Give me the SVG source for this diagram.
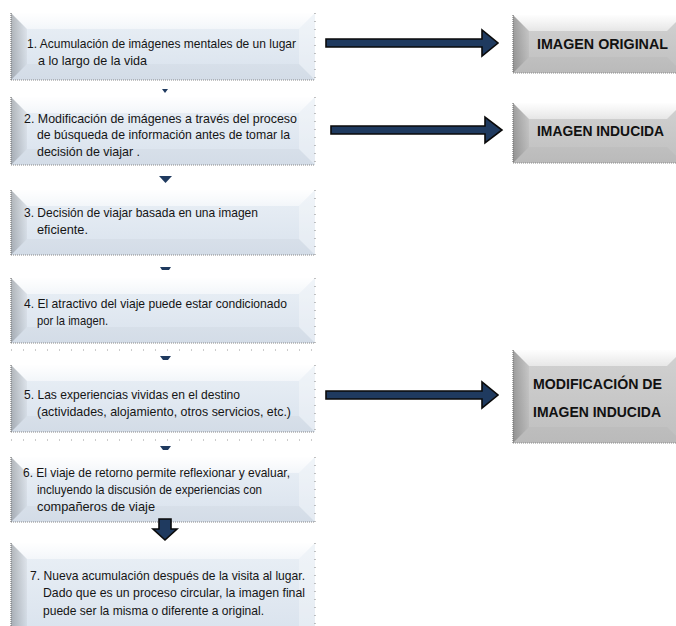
<svg xmlns="http://www.w3.org/2000/svg" width="676" height="626" viewBox="0 0 676 626">
<defs>
<linearGradient id="gBlue" x1="0" y1="0" x2="0" y2="1">
<stop offset="0" stop-color="#eaf0f6"/><stop offset="1" stop-color="#d9e2ed"/>
</linearGradient>
<linearGradient id="gGray" x1="0" y1="0" x2="0" y2="1">
<stop offset="0" stop-color="#d2d2d2"/><stop offset="1" stop-color="#bfbfbf"/>
</linearGradient>
<linearGradient id="gLeft" x1="0" y1="0" x2="1" y2="0">
<stop offset="0" stop-color="#000" stop-opacity="0.24"/><stop offset="1" stop-color="#000" stop-opacity="0.04"/>
</linearGradient>
<linearGradient id="gTop" x1="0" y1="0" x2="0" y2="1">
<stop offset="0" stop-color="#fff" stop-opacity="0.97"/><stop offset="1" stop-color="#fff" stop-opacity="0.5"/>
</linearGradient>
</defs>
<style>
.face{fill:url(#gBlue)}
.gface{fill:url(#gGray)}
.top{fill:url(#gTop)}
.left{fill:url(#gLeft)}
.right{fill:#fff;fill-opacity:0.3}
.bot{fill:#000;fill-opacity:0.025}
.dotL{stroke:#777;stroke-width:1.2;stroke-dasharray:1 1;fill:none}
.dotB{stroke:#888;stroke-width:1;stroke-dasharray:1 1;fill:none}
.dotR{stroke:#888;stroke-width:1;stroke-dasharray:1 7;fill:none}
.dotX{stroke:#999;stroke-width:1;stroke-dasharray:1 11;fill:none}
.t{font-family:"Liberation Sans Narrow","Liberation Sans",Arial,sans-serif;font-size:13px;fill:#151515}
.b{font-family:"Liberation Sans",Arial,sans-serif;font-size:14px;font-weight:bold;fill:#111;text-anchor:middle}
.arr{fill:#1f3a5f;stroke:#0a0a0a;stroke-width:1.6;stroke-linejoin:miter}
.tri{fill:#1f3a5f}
</style>

<g id="node1">
<rect class="face" x="11" y="13" width="304" height="67"/>
<polygon class="top" points="11,13 315,13 299,29 27,29"/>
<polygon class="left" points="11,13 27,29 27,64 11,80"/>
<polygon class="right" points="315,13 315,80 299,64 299,29"/>
<polygon class="bot" points="11,80 27,64 299,64 315,80"/>
<path class="dotL" d="M11,13V80"/><path class="dotB" d="M11,80H315"/><path class="dotR" d="M315,13V80"/>
<text class="t" x="27" y="47.5" textLength="269" lengthAdjust="spacingAndGlyphs">1. Acumulación de imágenes mentales de un lugar</text>
<text class="t" x="38" y="64.5" textLength="109" lengthAdjust="spacingAndGlyphs">a lo largo de la vida</text>
</g>

<g id="node2">
<rect class="face" x="11" y="97" width="304" height="68"/>
<polygon class="top" points="11,97 315,97 299,113 27,113"/>
<polygon class="left" points="11,97 27,113 27,149 11,165"/>
<polygon class="right" points="315,97 315,165 299,149 299,113"/>
<polygon class="bot" points="11,165 27,149 299,149 315,165"/>
<path class="dotL" d="M11,97V165"/><path class="dotB" d="M11,165H315"/><path class="dotR" d="M315,97V165"/>
<text class="t" x="24" y="122.5" textLength="273" lengthAdjust="spacingAndGlyphs">2. Modificación de imágenes a través del proceso</text>
<text class="t" x="37" y="138.5" textLength="253" lengthAdjust="spacingAndGlyphs">de búsqueda de información antes de tomar  la</text>
<text class="t" x="37" y="155.5" textLength="103" lengthAdjust="spacingAndGlyphs">decisión de viajar .</text>
</g>

<g id="node3">
<rect class="face" x="11" y="190" width="304" height="65"/>
<polygon class="top" points="11,190 315,190 299,206 27,206"/>
<polygon class="left" points="11,190 27,206 27,239 11,255"/>
<polygon class="right" points="315,190 315,255 299,239 299,206"/>
<polygon class="bot" points="11,255 27,239 299,239 315,255"/>
<path class="dotL" d="M11,190V255"/><path class="dotB" d="M11,255H315"/><path class="dotR" d="M315,190V255"/>
<text class="t" x="24" y="216.5" textLength="234" lengthAdjust="spacingAndGlyphs">3. Decisión de viajar basada en una imagen</text>
<text class="t" x="37" y="233.5" textLength="51" lengthAdjust="spacingAndGlyphs">eficiente.</text>
</g>

<g id="node4">
<rect class="face" x="11" y="278" width="304" height="65"/>
<polygon class="top" points="11,278 315,278 299,294 27,294"/>
<polygon class="left" points="11,278 27,294 27,327 11,343"/>
<polygon class="right" points="315,278 315,343 299,327 299,294"/>
<polygon class="bot" points="11,343 27,327 299,327 315,343"/>
<path class="dotL" d="M11,278V343"/><path class="dotB" d="M11,343H315"/><path class="dotR" d="M315,278V343"/>
<text class="t" x="24" y="307.5" textLength="263" lengthAdjust="spacingAndGlyphs">4. El atractivo del viaje puede estar condicionado</text>
<text class="t" x="37" y="324.5" textLength="71" lengthAdjust="spacingAndGlyphs">por la imagen.</text>
</g>

<g id="node5">
<rect class="face" x="11" y="365" width="304" height="67"/>
<polygon class="top" points="11,365 315,365 299,381 27,381"/>
<polygon class="left" points="11,365 27,381 27,416 11,432"/>
<polygon class="right" points="315,365 315,432 299,416 299,381"/>
<polygon class="bot" points="11,432 27,416 299,416 315,432"/>
<path class="dotL" d="M11,365V432"/><path class="dotB" d="M11,432H315"/><path class="dotR" d="M315,365V432"/>
<text class="t" x="24" y="398.5" textLength="216" lengthAdjust="spacingAndGlyphs">5. Las experiencias vividas en el destino</text>
<text class="t" x="37" y="415.5" textLength="254" lengthAdjust="spacingAndGlyphs">(actividades, alojamiento, otros servicios, etc.)</text>
</g>

<g id="node6">
<rect class="face" x="11" y="457" width="304" height="65"/>
<polygon class="top" points="11,457 315,457 299,473 27,473"/>
<polygon class="left" points="11,457 27,473 27,506 11,522"/>
<polygon class="right" points="315,457 315,522 299,506 299,473"/>
<polygon class="bot" points="11,522 27,506 299,506 315,522"/>
<path class="dotL" d="M11,457V522"/><path class="dotB" d="M11,522H315"/><path class="dotR" d="M315,457V522"/>
<text class="t" x="23" y="476.5" textLength="267" lengthAdjust="spacingAndGlyphs">6. El viaje de retorno permite reflexionar y evaluar,</text>
<text class="t" x="37" y="493.5" textLength="225" lengthAdjust="spacingAndGlyphs">incluyendo la discusión de experiencias con</text>
<text class="t" x="37" y="510.5" textLength="118" lengthAdjust="spacingAndGlyphs">compañeros de viaje</text>
</g>

<g id="node7">
<rect class="face" x="11" y="543" width="304" height="95"/>
<polygon class="top" points="11,543 315,543 299,559 27,559"/>
<polygon class="left" points="11,543 27,559 27,626 11,626"/>
<polygon class="right" points="315,543 315,626 299,626 299,559"/>
<path class="dotL" d="M11,543V626"/><path class="dotR" d="M315,543V626"/>
<text class="t" x="30" y="579.5" textLength="275" lengthAdjust="spacingAndGlyphs">7. Nueva acumulación después de la visita al lugar.</text>
<text class="t" x="43" y="597" textLength="262" lengthAdjust="spacingAndGlyphs">Dado que es un proceso circular, la imagen final</text>
<text class="t" x="43" y="614.5" textLength="221" lengthAdjust="spacingAndGlyphs">puede ser la misma o diferente a original.</text>
</g>

<g id="imgOriginal">
<rect class="gface" x="513" y="15" width="170" height="58"/>
<polygon class="top" points="513,15 683,15 667,31 529,31"/>
<polygon class="left" points="513,15 529,31 529,57 513,73"/>
<polygon class="bot" points="513,73 529,57 667,57 683,73"/>
<path class="dotL" d="M513,15V73"/><path class="dotB" d="M513,73H676"/>
<text class="b" x="602.5" y="49" textLength="131" lengthAdjust="spacingAndGlyphs">IMAGEN ORIGINAL</text>
</g>

<g id="imgInducida">
<rect class="gface" x="513" y="103" width="170" height="60"/>
<polygon class="top" points="513,103 683,103 667,119 529,119"/>
<polygon class="left" points="513,103 529,119 529,147 513,163"/>
<polygon class="bot" points="513,163 529,147 667,147 683,163"/>
<path class="dotL" d="M513,103V163"/><path class="dotB" d="M513,163H676"/>
<text class="b" x="600.5" y="136" textLength="127" lengthAdjust="spacingAndGlyphs">IMAGEN INDUCIDA</text>
</g>

<g id="modInducida">
<rect class="gface" x="513" y="350" width="170" height="93"/>
<polygon class="top" points="513,350 683,350 667,366 529,366"/>
<polygon class="left" points="513,350 529,366 529,427 513,443"/>
<polygon class="bot" points="513,443 529,427 667,427 683,443"/>
<path class="dotL" d="M513,350V443"/><path class="dotB" d="M513,443H676"/>
<text class="b" x="597.5" y="389" textLength="129" lengthAdjust="spacingAndGlyphs">MODIFICACIÓN  DE</text>
<text class="b" x="597" y="417" textLength="128" lengthAdjust="spacingAndGlyphs">IMAGEN INDUCIDA</text>
</g>

<g id="connectors">
<path class="dotX" d="M11,350H315"/>
<path class="dotX" d="M11,440H315"/>
<polygon class="arr" points="326,39 482,39 482,30 498,43 482,56 482,47 326,47"/>
<polygon class="arr" points="331,126 485,126 485,117 502,130 485,143 485,134 331,134"/>
<polygon class="arr" points="326,391 482,391 482,382 498,395 482,408 482,399 326,399"/>
<polygon class="tri" points="162,89 168,89 165,93"/>
<polygon class="tri" points="159,176 172,176 165.5,183"/>
<polygon class="tri" points="160,267 171,267 169,270 162,270"/>
<polygon class="tri" points="160,356 171,356 168,360 163,360"/>
<polygon class="tri" points="160,446 171,446 168,450 163,450"/>
<polygon class="arr" points="159,519 171,519 171,529 177,529 165,540 153,529 159,529"/>
</g>
</svg>
